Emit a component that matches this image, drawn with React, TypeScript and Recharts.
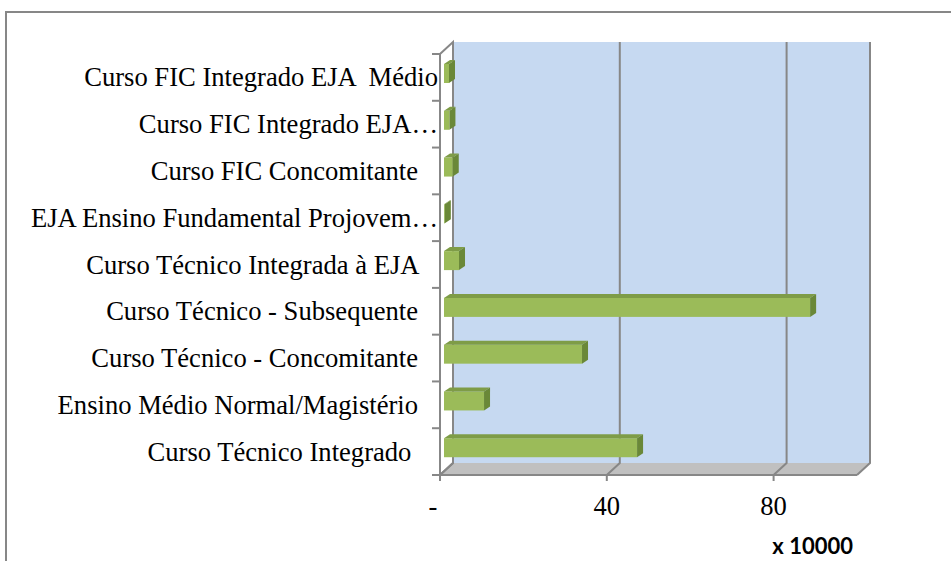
import React from "react";
import {
  BarChart,
  Bar,
  XAxis,
  YAxis,
  CartesianGrid,
  ReferenceArea,
} from "recharts";

// top to bottom, as shown in the chart (trailing spaces come from the source cells)
const categories = [
  "Curso FIC Integrado EJA  Médio",
  "Curso FIC Integrado EJA…",
  "Curso FIC Concomitante   ",
  "EJA Ensino Fundamental Projovem…",
  "Curso Técnico Integrada à EJA   ",
  "Curso Técnico - Subsequente   ",
  "Curso Técnico - Concomitante   ",
  "Ensino Médio Normal/Magistério   ",
  "Curso Técnico Integrado    ",
];

// values in units of 10000
const values = [1.2, 1.3, 2.1, 0.2, 3.6, 87.8, 33.1, 9.6, 46.3];

const xTicks = [0, 40, 80];

const data = categories.map((name, i) => ({ name, value: values[i] }));

const GRAY = "#878787";
const SERIF = "'Liberation Serif', 'Times New Roman', serif";
const FONT_SIZE = 26.6;
// 3d depth of the walls
const DX = 13;
const DY = -12;

function Bar3D(props: any) {
  const { x, y, width, height } = props;
  const fx = x + 4;
  const fy = y - 4;
  const d = 6;
  const h = 4;
  const w = Math.max(width, 0);
  return (
    <g>
      <rect x={fx} y={fy} width={w} height={height} fill="#9BBB59" />
      <polygon
        points={`${fx},${fy} ${fx + d},${fy - h} ${fx + w + d},${fy - h} ${fx + w},${fy}`}
        fill="#7E9C47"
      />
      <polygon
        points={`${fx + w},${fy} ${fx + w + d},${fy - h} ${fx + w + d},${fy + height - h} ${fx + w},${fy + height}`}
        fill="#6A8838"
      />
    </g>
  );
}

function Walls(props: any) {
  const { x, y, width, height } = props;
  const b = y + height;
  return (
    <g>
      <rect x={x + DX} y={y + DY} width={width} height={height} fill="#C6D9F1" />
      <polygon
        points={`${x},${b} ${x + width},${b} ${x + width + DX},${b + DY} ${x + DX},${b + DY}`}
        fill="#C0C0C0"
      />
      <path
        d={`M${x},${b} L${x + DX},${b + DY} L${x + DX},${y + DY} L${x},${y}`}
        fill="none"
        stroke={GRAY}
        strokeWidth={2}
      />
    </g>
  );
}

function GridLine(props: any) {
  const { x1, y1, y2 } = props;
  return (
    <path
      d={`M${x1},${y2} L${x1 + DX},${y2 + DY} L${x1 + DX},${y1 + DY}`}
      fill="none"
      stroke={GRAY}
      strokeWidth={2}
    />
  );
}

function CategoryTick(props: any) {
  const { x, y, payload, index } = props;
  const half = payload.offset || 0;
  return (
    <g>
      <line x1={x - 8} x2={x} y1={y - half} y2={y - half} stroke={GRAY} strokeWidth={2} />
      {index === categories.length - 1 && (
        <line x1={x - 8} x2={x} y1={y + half} y2={y + half} stroke={GRAY} strokeWidth={2} />
      )}
      <text
        x={x - 2}
        y={y}
        dy="0.34em"
        textAnchor="end"
        fontFamily={SERIF}
        fontSize={FONT_SIZE}
        fill="#000"
        style={{ whiteSpace: "pre" }}
      >
        {payload.value}
      </text>
    </g>
  );
}

function ValueTick(props: any) {
  const { x, y, payload } = props;
  const label = payload.value === 0 ? "-" : String(payload.value);
  return (
    <text
      x={payload.value === 0 ? x - 7 : x}
      y={y + 34}
      textAnchor="middle"
      fontFamily={SERIF}
      fontSize={FONT_SIZE}
      fill="#000"
    >
      {label}
    </text>
  );
}

function UnitLabel(props: any) {
  const { viewBox } = props;
  return (
    <text
      x={viewBox.x + viewBox.width - 4}
      y={viewBox.y + 79}
      textAnchor="end"
      fontFamily="Lato, 'Open Sans', sans-serif"
      fontWeight="bold"
      fontSize={22}
      fill="#000"
    >
      x 10000
    </text>
  );
}

export default function App() {
  return (
    <div
      style={{
        position: "absolute",
        left: 0,
        top: 0,
        width: 951,
        height: 561,
        overflow: "hidden",
        background: "#fff",
      }}
    >
      <div
        style={{
          position: "absolute",
          left: 5,
          top: 11,
          width: 960,
          height: 600,
          borderLeft: `2px solid ${GRAY}`,
          borderTop: `2px solid ${GRAY}`,
        }}
      />
      <div style={{ position: "absolute", left: 0, top: 0 }}>
        <BarChart
          width={951}
          height={561}
          data={data}
          layout="vertical"
          margin={{ top: 54, right: 94, bottom: 26, left: 0 }}
        >
          <ReferenceArea
            x1={0}
            x2={100}
            ifOverflow="visible"
            shape={<Walls />}
            zIndex={-200}
          />
          <CartesianGrid horizontal={false} vertical={<GridLine />} />
          <XAxis
            type="number"
            domain={[0, 100]}
            ticks={xTicks}
            height={60}
            tickSize={6}
            tickMargin={0}
            axisLine={{ stroke: GRAY, strokeWidth: 2 }}
            tickLine={{ stroke: GRAY, strokeWidth: 2 }}
            tick={<ValueTick />}
            label={<UnitLabel />}
          />
          <YAxis
            type="category"
            dataKey="name"
            width={440}
            interval={0}
            tickSize={0}
            tickMargin={0}
            tickLine={false}
            axisLine={{ stroke: GRAY, strokeWidth: 2 }}
            tick={<CategoryTick />}
          />
          <Bar
            dataKey="value"
            barSize={19}
            shape={<Bar3D />}
            isAnimationActive={false}
          />
        </BarChart>
      </div>
    </div>
  );
}
